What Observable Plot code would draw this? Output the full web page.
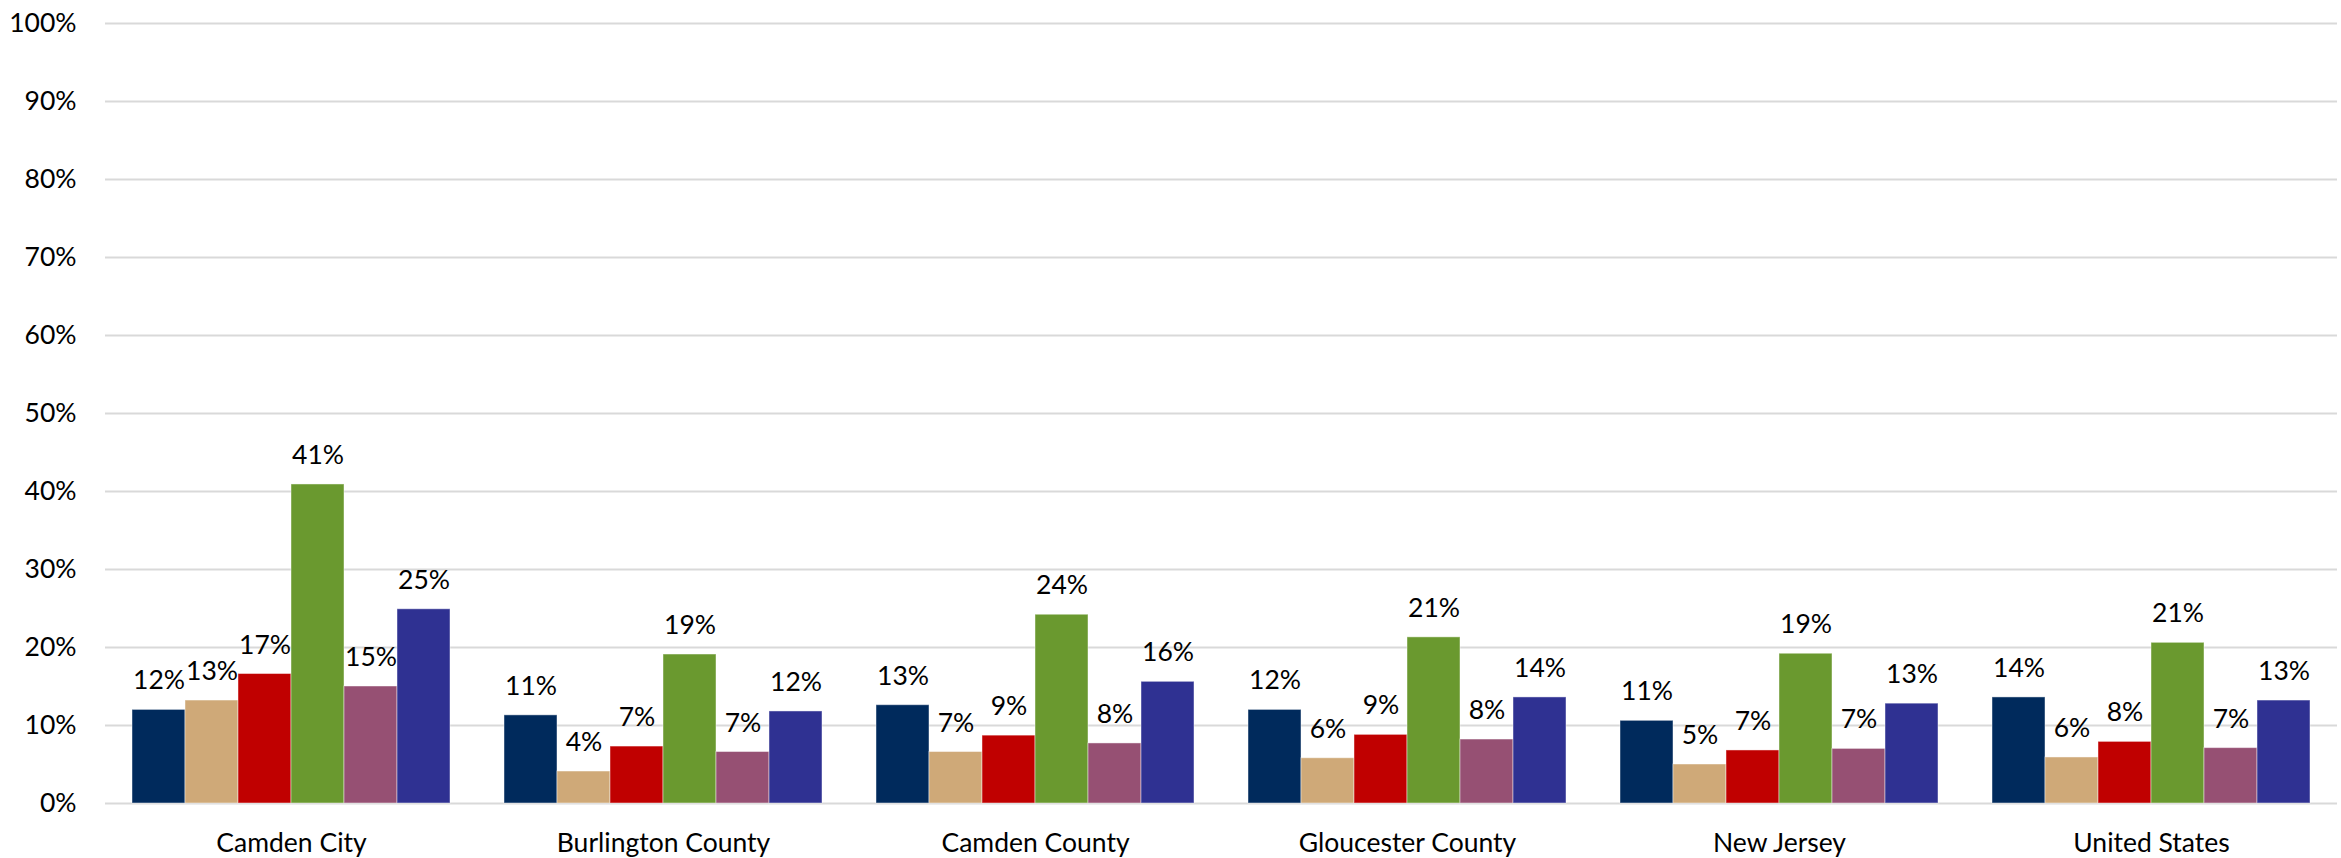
<!DOCTYPE html>
<html>
<head>
<meta charset="utf-8">
<script src="https://cdn.jsdelivr.net/npm/d3@7"></script>
<script src="https://cdn.jsdelivr.net/npm/@observablehq/plot@0.6"></script>
<style>
  html, body { margin: 0; padding: 0; background: #ffffff; }
  #chart { width: 2341px; height: 858px; }
</style>
</head>
<body>
<div id="chart"></div>
<script>
// Categories (x groups)
const categories = ["Camden City", "Burlington County", "Camden County", "Gloucester County", "New Jersey", "United States"];
// Series (bars within each group), no legend in the original
const series = ["Series 1", "Series 2", "Series 3", "Series 4", "Series 5", "Series 6"];
const seriesColors = ["#002A5C", "#CFA978", "#C00000", "#6A992F", "#965073", "#2F3192"];

// Values per series, in category order
const series1 = [0.120, 0.113, 0.126, 0.120, 0.106, 0.136];
const series2 = [0.132, 0.041, 0.066, 0.058, 0.050, 0.059];
const series3 = [0.166, 0.073, 0.087, 0.088, 0.068, 0.079];
const series4 = [0.409, 0.191, 0.242, 0.213, 0.192, 0.206];
const series5 = [0.150, 0.066, 0.077, 0.082, 0.070, 0.071];
const series6 = [0.249, 0.118, 0.156, 0.136, 0.128, 0.132];

const yTicks = [0, 0.1, 0.2, 0.3, 0.4, 0.5, 0.6, 0.7, 0.8, 0.9, 1.0];

const seriesValues = [series1, series2, series3, series4, series5, series6];
const data = [];
categories.forEach((c, ci) => {
  series.forEach((s, si) => {
    data.push({category: c, series: s, value: seriesValues[si][ci]});
  });
});

const fmt = d3.format(".0%");

const chart = Plot.plot({
  width: 2341,
  height: 858,
  marginTop: 23,
  marginBottom: 55,
  marginLeft: 104,
  marginRight: 4,
  style: {fontFamily: "Lato, 'Noto Sans', sans-serif", fontSize: "26.5px", color: "#000", background: "#fff"},
  fx: {domain: categories, paddingInner: 0, paddingOuter: 0, label: null, axis: "bottom", tickSize: 0, tickPadding: 30},
  x: {domain: series, paddingInner: 0, paddingOuter: 0.477, axis: null},
  y: {domain: [0, 1], ticks: yTicks, tickFormat: fmt, label: null, tickSize: 0, tickPadding: 29, grid: false},
  color: {domain: series, range: seriesColors},
  marks: [
    Plot.ruleY(yTicks, {stroke: "#d9d9d9", strokeWidth: 2}),
    Plot.barY(data, {fx: "category", x: "series", y: "value", fill: "series", stroke: "#ffffff", strokeOpacity: 0.45, strokeWidth: 1}),
    Plot.text(data, {fx: "category", x: "series", y: "value", text: d => fmt(d.value), dy: -29, fontSize: 26.5, fill: "#000"})
  ]
});

document.getElementById("chart").appendChild(chart);
</script>
</body>
</html>
